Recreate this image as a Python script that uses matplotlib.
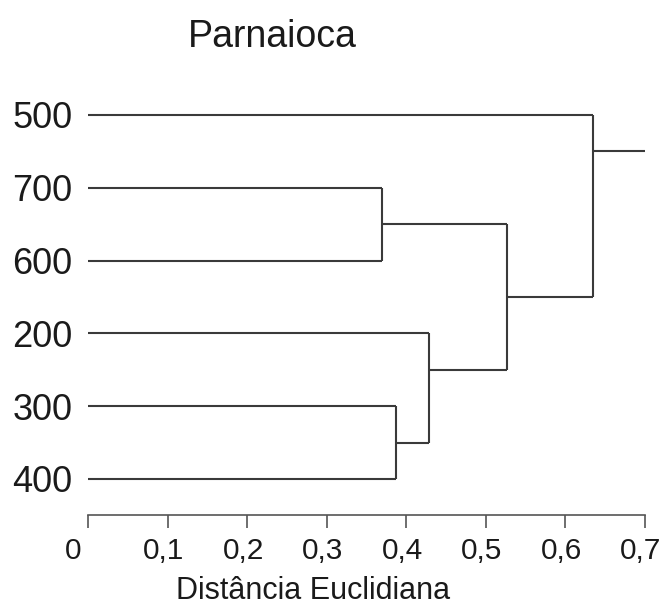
import matplotlib
matplotlib.use("Agg")
import matplotlib.pyplot as plt
from matplotlib.transforms import ScaledTranslation

plt.rcParams["font.family"] = ["Liberation Sans", "DejaVu Sans"]

# Leaves, top to bottom
leaves = ["500", "700", "600", "200", "300", "400"]

# Agglomeration steps: (cluster a, cluster b, fusion distance)
# Leaves are referenced by label, merged clusters by "c<step>"
merges = [
    ("700", "600", 0.370),
    ("300", "400", 0.387),
    ("200", "c1", 0.429),
    ("c0", "c2", 0.526),
    ("500", "c3", 0.635),
]
root_tail = 0.70

x_ticks = [0, 0.1, 0.2, 0.3, 0.4, 0.5, 0.6, 0.7]
x_tick_labels = ["0", "0,1", "0,2", "0,3", "0,4", "0,5", "0,6", "0,7"]

title = "Parnaioca"
xlabel = "Distância Euclidiana"

# where each merged node's outgoing link leaves its vertical bar
# (fraction of the way from branch a to branch b)
link_anchor = [0.5, 0.5, 1 / 3, 0.5, 0.2]

W, H = 667, 607
fig = plt.figure(figsize=(W / 100, H / 100), dpi=100)

# axes geometry in pixels
left_px, right_px = 88, 645
bottom_px, top_px = 515, 100
row_px = 72.8
first_row_px = 115

ax = fig.add_axes([left_px / W, 1 - bottom_px / H,
                   (right_px - left_px) / W, (bottom_px - top_px) / H])

n = len(leaves)
ypos = {lab: n - 1 - i for i, lab in enumerate(leaves)}
xpos = {lab: 0.0 for lab in leaves}

line_kw = dict(color="#3a3a3a", lw=1.5, solid_capstyle="butt")
for k, (a, b, h) in enumerate(merges):
    ya, yb = ypos[a], ypos[b]
    ax.plot([xpos[a], h], [ya, ya], **line_kw)
    ax.plot([xpos[b], h], [yb, yb], **line_kw)
    ax.plot([h, h], [ya, yb], **line_kw)
    node = f"c{k}"
    ypos[node] = ya + (yb - ya) * link_anchor[k]
    xpos[node] = h

root = f"c{len(merges) - 1}"
ax.plot([xpos[root], root_tail], [ypos[root], ypos[root]], **line_kw)

ax.set_xlim(0, 0.7)
y_top_row = n - 1
ax.set_ylim(y_top_row - (bottom_px - first_row_px) / row_px,
            y_top_row + (first_row_px - top_px) / row_px)

ax.set_yticks([ypos[l] for l in leaves])
ax.set_yticklabels(leaves, fontsize=26, color="#1a1a1a")
ax.tick_params(axis="y", length=0, pad=11)

ax.set_xticks(x_ticks)
ax.set_xticklabels(x_tick_labels, fontsize=21.5, color="#1a1a1a")
ax.tick_params(axis="x", direction="out", length=9.5, width=1.2,
               color="#555555", pad=6)
for i, lbl in enumerate(ax.get_xticklabels()):
    dx = -15 if i == 0 else -4
    lbl.set_transform(lbl.get_transform()
                      + ScaledTranslation(dx / 100, 0, fig.dpi_scale_trans))

for s in ("left", "right", "top"):
    ax.spines[s].set_visible(False)
ax.spines["bottom"].set_color("#555555")
ax.spines["bottom"].set_linewidth(1.2)

fig.text(272 / W, 1 - 37 / H, title, ha="center", va="center",
         fontsize=27, color="#1a1a1a")
fig.text(313 / W, 1 - 591 / H, xlabel, ha="center", va="center",
         fontsize=22, color="#1a1a1a")

fig.savefig("out.png", dpi=100)
